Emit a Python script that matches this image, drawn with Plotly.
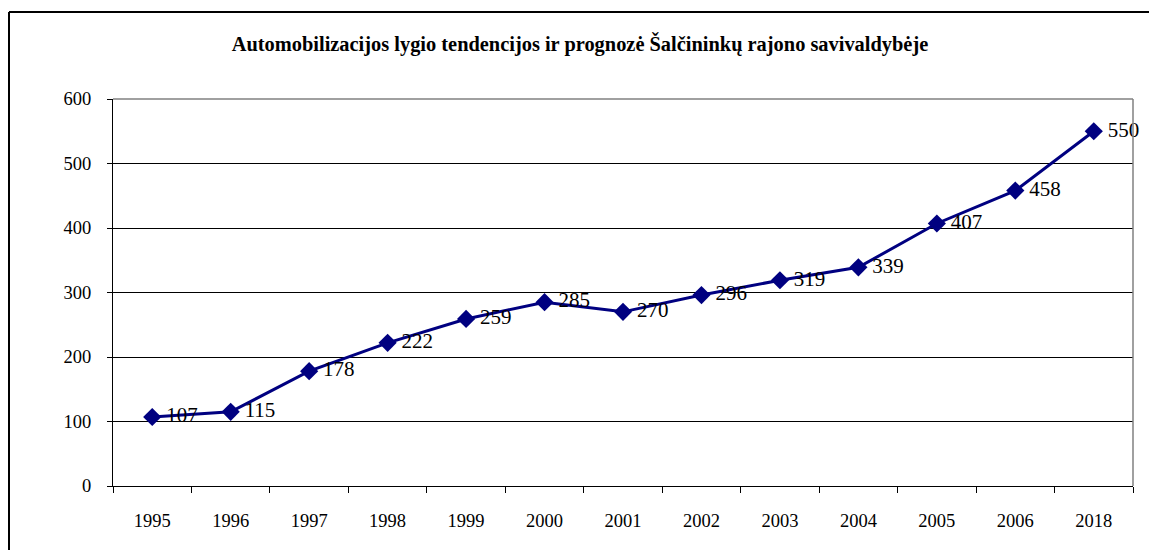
import plotly.graph_objects as go

years = ["1995", "1996", "1997", "1998", "1999", "2000", "2001", "2002", "2003", "2004", "2005", "2006", "2018"]
values = [107, 115, 178, 222, 259, 285, 270, 296, 319, 339, 407, 458, 550]
title_text = "Automobilizacijos lygio tendencijos ir prognozė Šalčininkų rajono savivaldybėje"

W, H = 1149, 550
ml, mr, mt, mb = 113, 16, 99, 64

fig = go.Figure()
fig.add_trace(go.Scatter(
    x=years, y=values, mode="lines+markers+text",
    line=dict(color="#000080", width=3),
    marker=dict(symbol="diamond", size=14, color="#000080"),
    text=["\u2009" + str(v) for v in values], textposition="middle right",
    textfont=dict(family="Liberation Serif", size=21, color="black"),
    cliponaxis=False, showlegend=False, hoverinfo="skip",
))

fig.update_layout(
    width=W, height=H,
    margin=dict(l=ml, r=mr, t=mt, b=mb),
    paper_bgcolor="white", plot_bgcolor="white",
    font=dict(family="Liberation Serif", color="black", size=18),
    title=dict(text="<b>" + title_text + "</b>", x=580 / W, xanchor="center",
               y=1 - 44 / H, yanchor="middle",
               font=dict(family="Liberation Serif", size=20.4, color="black")),
    xaxis=dict(type="category", range=[-0.5, len(years) - 0.5], autorange=False,
               showgrid=False, showline=True, linecolor="black", linewidth=1,
               ticks="outside", tickson="boundaries", ticklen=6, tickcolor="black",
               tickfont=dict(size=18.5), ticklabelstandoff=18, zeroline=False),
    yaxis=dict(range=[0, 600], autorange=False, dtick=100, showgrid=True, gridcolor="black",
               gridwidth=1, showline=True, linecolor="black", linewidth=1, ticks="outside",
               ticklen=5, tickcolor="black", tickfont=dict(size=18.5), ticklabelstandoff=12,
               zeroline=False),
)

# plot-area border (top and right, gray)
fig.add_shape(type="line", xref="paper", yref="paper", x0=0, x1=1, y0=1, y1=1,
              line=dict(color="#808080", width=1.5))
fig.add_shape(type="line", xref="paper", yref="paper", x0=1, x1=1, y0=0, y1=1,
              line=dict(color="#808080", width=1.5))

# outer chart frame: top and left edges (the rest lies outside the picture)
pw, ph = W - ml - mr, H - mt - mb
fx0 = (9 - ml) / pw
fy1 = 1 + (mt - 12) / ph
fig.add_shape(type="line", xref="paper", yref="paper",
              x0=fx0, x1=1 + 60 / pw, y0=fy1, y1=fy1,
              line=dict(color="black", width=2), layer="below")
fig.add_shape(type="line", xref="paper", yref="paper",
              x0=fx0, x1=fx0, y0=-(mb + 40) / ph, y1=fy1,
              line=dict(color="black", width=2), layer="below")

fig.write_html(
    "out.html",
    config={"displayModeBar": False},
    post_script="document.body.style.margin='0';document.body.style.overflow='hidden';",
)
